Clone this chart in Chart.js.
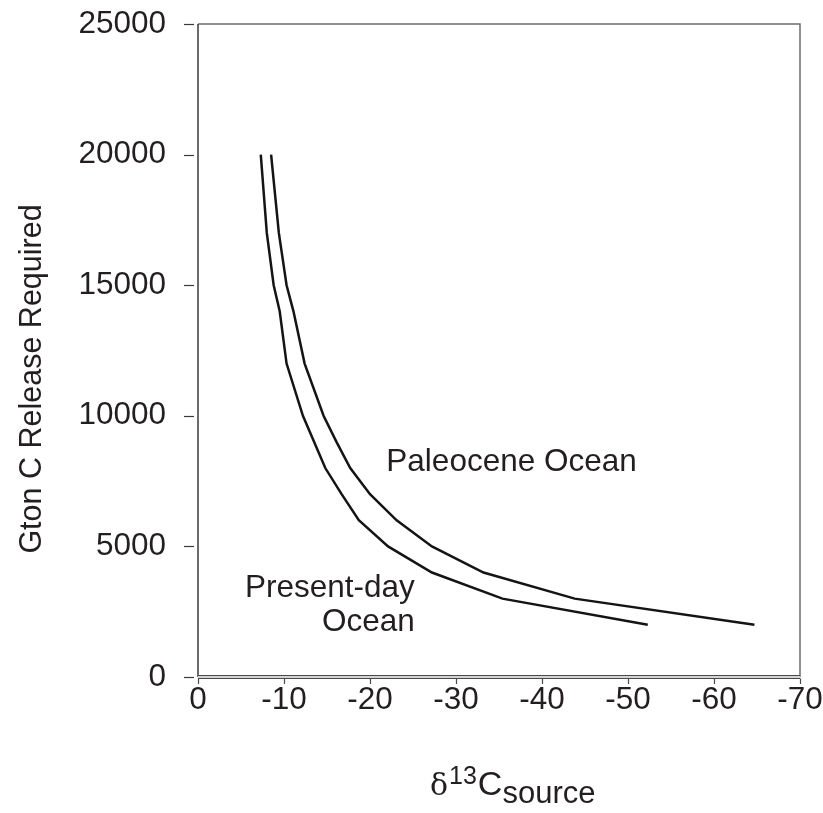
<!DOCTYPE html>
<html>
<head>
<meta charset="utf-8">
<script src="https://cdn.jsdelivr.net/npm/chart.js@4"></script>
<style>
  html, body { margin: 0; padding: 0; background: #fff; }
  #wrap { width: 823px; height: 813px; position: relative; }
</style>
</head>
<body>
<div id="wrap"><canvas id="chart" width="823" height="813"></canvas></div>
<script>
// values
var presentX = [-7.3, -8.0, -8.8, -9.5, -10.3, -12.2, -14.8, -16.7, -18.7, -22.1, -27.2, -35.4, -52.3];
var presentY = [20000, 17000, 15000, 14000, 12000, 10000, 8000, 7000, 6000, 5000, 4000, 3000, 2000];
var paleoX = [-8.5, -9.4, -10.3, -11.1, -12.4, -14.6, -16.1, -17.7, -20.0, -23.1, -27.2, -33.2, -43.8, -64.7];
var paleoY = [20000, 17000, 15000, 14000, 12000, 10000, 9000, 8000, 7000, 6000, 5000, 4000, 3000, 2000];

var xTicks = [0, -10, -20, -30, -40, -50, -60, -70];
var yTicks = [0, 5000, 10000, 15000, 20000, 25000];

var FONT = '"Liberation Sans", Arial, Helvetica, sans-serif';
var INK = '#231f20';

function toPoints(xs, ys) {
    var pts = [];
    for (var i = 0; i < xs.length; i++) {
        pts.push({ x: xs[i], y: ys[i] });
    }
    return pts;
}

// frame, y tick dashes, x axis band, labels and axis title
var decorPlugin = {
    id: 'decor',
    beforeDatasetsDraw: function(chart) {
        var ctx = chart.ctx;
        var a = chart.chartArea;
        var ys = chart.scales.y;
        var xs = chart.scales.x;
        ctx.save();

        // top and right frame
        ctx.strokeStyle = '#6e6e6e';
        ctx.lineWidth = 1.5;
        ctx.beginPath();
        ctx.moveTo(a.left, a.top);
        ctx.lineTo(a.right, a.top);
        ctx.lineTo(a.right, a.bottom);
        ctx.stroke();

        // y axis line
        ctx.strokeStyle = '#3a3a3a';
        ctx.beginPath();
        ctx.moveTo(a.left, a.top);
        ctx.lineTo(a.left, a.bottom);
        ctx.stroke();

        // y tick dashes, detached from the axis
        ctx.lineWidth = 1.2;
        yTicks.forEach(function(v) {
            var py = Math.round(ys.getPixelForValue(v)) + 0.5;
            ctx.beginPath();
            ctx.moveTo(a.left - 14, py);
            ctx.lineTo(a.left - 4, py);
            ctx.stroke();
        });

        // x axis: double line band
        ctx.fillStyle = '#d4d4d4';
        ctx.fillRect(a.left, a.bottom - 1.5, a.right - a.left, 3);
        ctx.strokeStyle = '#4a4a4a';
        ctx.lineWidth = 1;
        ctx.beginPath();
        ctx.moveTo(a.left, a.bottom - 1.5);
        ctx.lineTo(a.right, a.bottom - 1.5);
        ctx.moveTo(a.left, a.bottom + 1.5);
        ctx.lineTo(a.right, a.bottom + 1.5);
        ctx.stroke();

        // x ticks downward
        ctx.lineWidth = 1.2;
        xTicks.forEach(function(v) {
            var px = Math.round(xs.getPixelForValue(v)) + 0.5;
            ctx.beginPath();
            ctx.moveTo(px, a.bottom + 1.5);
            ctx.lineTo(px, a.bottom + 7);
            ctx.stroke();
        });
        ctx.restore();
    },
    afterDraw: function(chart) {
        var ctx = chart.ctx;
        var a = chart.chartArea;
        var xs = chart.scales.x;
        var ys = chart.scales.y;
        ctx.save();
        ctx.fillStyle = INK;
        ctx.textBaseline = 'middle';

        // curve labels
        ctx.font = '31.5px ' + FONT;
        ctx.textAlign = 'left';
        ctx.fillText('Paleocene Ocean', xs.getPixelForValue(-21.9), ys.getPixelForValue(8230));
        ctx.textAlign = 'right';
        ctx.fillText('Present-day', xs.getPixelForValue(-25.2), ys.getPixelForValue(3400));
        ctx.fillText('Ocean', xs.getPixelForValue(-25.2), ys.getPixelForValue(2100));

        // y axis title
        ctx.save();
        ctx.translate(33, 379);
        ctx.rotate(-Math.PI / 2);
        ctx.textAlign = 'center';
        ctx.font = '30.5px ' + FONT;
        ctx.fillText('Gton C Release Required', 0, 0);
        ctx.restore();

        // x axis title: δ13C with "source" subscript
        ctx.textAlign = 'left';
        ctx.textBaseline = 'alphabetic';
        var base = 795;
        var x = 430;
        ctx.font = '30px "DejaVu Serif", "Liberation Serif", serif';
        ctx.fillText('\u03b4', x, base);
        x += ctx.measureText('\u03b4').width + 1;
        ctx.font = '25px ' + FONT;
        ctx.fillText('13', x, base - 11);
        x += ctx.measureText('13').width + 1;
        ctx.font = '34px ' + FONT;
        ctx.fillText('C', x, base);
        x += ctx.measureText('C').width;
        ctx.font = '31px ' + FONT;
        ctx.fillText('source', x, base + 8);
        ctx.restore();
    }
};

var ctx = document.getElementById('chart').getContext('2d');
var chart = new Chart(ctx, {
    type: 'scatter',
    data: {
        datasets: [{
            label: 'Present-day Ocean',
            data: toPoints(presentX, presentY),
            showLine: true,
            borderColor: '#141414',
            borderWidth: 2.5,
            pointRadius: 0,
            tension: 0,
            fill: false
        }, {
            label: 'Paleocene Ocean',
            data: toPoints(paleoX, paleoY),
            showLine: true,
            borderColor: '#141414',
            borderWidth: 2.5,
            pointRadius: 0,
            tension: 0,
            fill: false
        }]
    },
    options: {
        responsive: false,
        animation: false,
        layout: { padding: { top: 24, right: 23, left: 0, bottom: 0 } },
        plugins: {
            legend: { display: false },
            tooltip: { enabled: false }
        },
        scales: {
            x: {
                type: 'linear',
                reverse: true,
                min: -70,
                max: 0,
                afterBuildTicks: function(scale) {
                    scale.ticks = xTicks.map(function(v) { return { value: v }; });
                },
                afterFit: function(scale) {
                    scale.height = 136;
                    scale.paddingLeft = 0;
                    scale.paddingRight = 0;
                },
                grid: { display: false, drawTicks: false },
                border: { display: false },
                ticks: {
                    padding: 4,
                    color: INK,
                    font: { size: 31.5, family: FONT },
                    maxRotation: 0,
                    callback: function(v) { return String(v); }
                }
            },
            y: {
                type: 'linear',
                min: 0,
                max: 25000,
                afterBuildTicks: function(scale) {
                    scale.ticks = yTicks.map(function(v) { return { value: v }; });
                },
                afterFit: function(scale) {
                    scale.width = 198;
                    scale.paddingTop = 0;
                    scale.paddingBottom = 0;
                },
                grid: { display: false, drawTicks: false },
                border: { display: false },
                ticks: {
                    padding: 32,
                    color: INK,
                    font: { size: 31.5, family: FONT },
                    callback: function(v) { return String(v); }
                }
            }
        }
    },
    plugins: [decorPlugin]
});
</script>
</body>
</html>
